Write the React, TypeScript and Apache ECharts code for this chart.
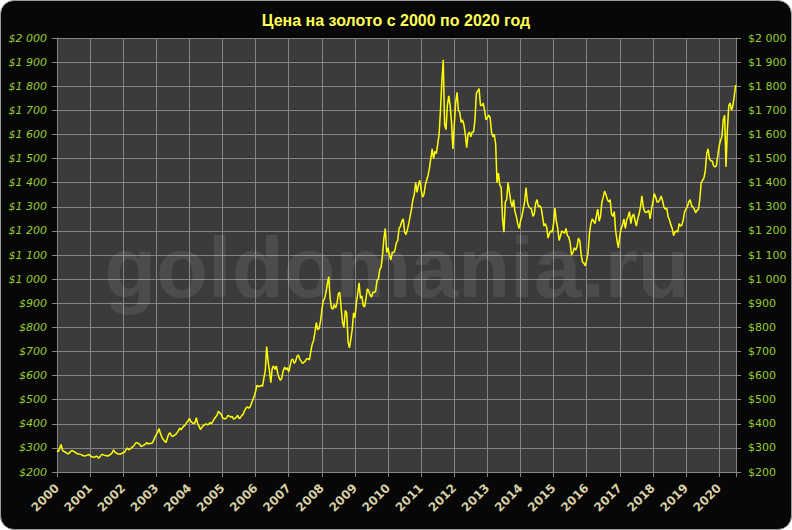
import React, { useEffect, useRef } from "react";
import * as echarts from "echarts";

const TITLE = "Цена на золото с 2000 по 2020 год";
const WATERMARK = "goldomania.ru";

const yearTicks = [2000, 2001, 2002, 2003, 2004, 2005, 2006, 2007, 2008, 2009, 2010, 2011, 2012, 2013, 2014, 2015, 2016, 2017, 2018, 2019, 2020];
const priceMin = 200;
const priceMax = 2000;
const priceStep = 100;
const xMax = 2020.51;

// semi-monthly gold prices (USD / oz), two readings per month
const p2000 = [288, 285, 300, 314, 290, 286, 282, 278, 275, 279, 286, 289, 286, 282, 278, 276, 275, 273, 271, 267, 266, 268, 270, 273];
const p2001 = [268, 264, 262, 261, 264, 266, 258, 262, 270, 273, 270, 268, 267, 266, 270, 274, 280, 292, 282, 279, 275, 275, 274, 278];
const p2002 = [280, 283, 292, 300, 292, 296, 300, 305, 310, 320, 322, 318, 315, 305, 308, 312, 315, 322, 316, 318, 318, 320, 330, 345];
const p2003 = [355, 365, 380, 360, 345, 335, 328, 322, 340, 358, 362, 350, 348, 352, 356, 362, 372, 382, 375, 385, 390, 395, 405, 412];
const p2004 = [422, 410, 405, 400, 405, 425, 400, 390, 376, 385, 392, 395, 400, 396, 398, 405, 400, 410, 420, 428, 435, 452, 445, 440];
const p2005 = [425, 422, 420, 425, 435, 432, 428, 430, 420, 422, 428, 435, 422, 425, 435, 440, 455, 465, 470, 465, 470, 485, 500, 515];
const p2006 = [535, 560, 555, 555, 560, 555, 590, 620, 720, 660, 620, 570, 630, 640, 625, 640, 610, 590, 580, 590, 620, 635, 625, 632];
const p2007 = [615, 640, 665, 668, 650, 660, 680, 685, 668, 660, 650, 655, 660, 670, 670, 665, 700, 730, 745, 780, 820, 790, 795, 825];
const p2008 = [870, 910, 920, 945, 980, 1010, 920, 880, 875, 895, 880, 900, 940, 945, 880, 820, 800, 870, 860, 740, 715, 750, 790, 860];
const p2009 = [840, 900, 940, 985, 920, 930, 890, 885, 920, 960, 950, 935, 925, 945, 945, 950, 995, 1000, 1040, 1050, 1100, 1170, 1210, 1110];
const p2010 = [1130, 1100, 1080, 1110, 1110, 1120, 1150, 1160, 1210, 1220, 1240, 1250, 1195, 1185, 1205, 1230, 1260, 1290, 1330, 1350, 1400, 1360, 1390, 1410];
const p2011 = [1370, 1340, 1350, 1390, 1410, 1430, 1460, 1500, 1540, 1500, 1530, 1520, 1560, 1600, 1700, 1820, 1910, 1640, 1620, 1720, 1760, 1720, 1650, 1540];
const p2012 = [1640, 1730, 1775, 1700, 1690, 1650, 1660, 1640, 1600, 1545, 1600, 1610, 1590, 1610, 1610, 1660, 1770, 1780, 1790, 1720, 1720, 1730, 1700, 1660];
const p2013 = [1670, 1680, 1670, 1610, 1590, 1600, 1560, 1400, 1440, 1390, 1380, 1250, 1195, 1320, 1330, 1400, 1360, 1320, 1300, 1330, 1280, 1260, 1230, 1210];
const p2014 = [1240, 1260, 1290, 1320, 1380, 1320, 1300, 1295, 1290, 1260, 1270, 1315, 1330, 1300, 1305, 1295, 1260, 1220, 1230, 1215, 1170, 1190, 1200, 1195];
const p2015 = [1230, 1295, 1240, 1210, 1160, 1180, 1200, 1195, 1190, 1210, 1180, 1175, 1150, 1100, 1110, 1130, 1120, 1135, 1170, 1160, 1100, 1070, 1065, 1055];
const p2016 = [1080, 1110, 1190, 1230, 1250, 1240, 1230, 1260, 1290, 1240, 1260, 1320, 1340, 1365, 1350, 1330, 1320, 1330, 1270, 1260, 1280, 1200, 1160, 1130];
const p2017 = [1180, 1210, 1225, 1250, 1210, 1245, 1260, 1280, 1230, 1260, 1270, 1245, 1220, 1250, 1270, 1300, 1345, 1300, 1280, 1275, 1280, 1285, 1250, 1290];
const p2018 = [1320, 1355, 1340, 1320, 1320, 1330, 1345, 1325, 1300, 1290, 1295, 1260, 1245, 1225, 1210, 1180, 1195, 1200, 1195, 1230, 1220, 1225, 1245, 1280];
const p2019 = [1290, 1300, 1320, 1330, 1305, 1300, 1290, 1275, 1285, 1290, 1330, 1400, 1410, 1420, 1450, 1520, 1540, 1500, 1490, 1490, 1470, 1465, 1470, 1510];
const p2020 = [1550, 1575, 1590, 1660, 1680, 1465, 1620, 1720, 1730, 1700, 1720, 1760, 1805];

const pricesByYear: [number, number[]][] = [
  [2000, p2000], [2001, p2001], [2002, p2002], [2003, p2003], [2004, p2004],
  [2005, p2005], [2006, p2006], [2007, p2007], [2008, p2008], [2009, p2009],
  [2010, p2010], [2011, p2011], [2012, p2012], [2013, p2013], [2014, p2014],
  [2015, p2015], [2016, p2016], [2017, p2017], [2018, p2018], [2019, p2019],
  [2020, p2020],
];

function fmtPrice(v: number): string {
  if (v >= 1000) {
    const th = Math.floor(v / 1000);
    const rest = String(Math.round(v % 1000)).padStart(3, "0");
    return "$" + th + " " + rest;
  }
  return "$" + v;
}

export default function App() {
  const ref = useRef<HTMLDivElement>(null);

  useEffect(() => {
    if (!ref.current) return;
    const chart = echarts.init(ref.current, null, { renderer: "svg" });

    const data: [number, number][] = [];
    pricesByYear.forEach(([year, arr]) => {
      arr.forEach((p, i) => data.push([year + i / 24, p]));
    });

    const gridColor = "#858585";
    const yAxisCommon = {
      type: "value" as const,
      min: priceMin,
      max: priceMax,
      interval: priceStep,
      axisLine: { show: true, lineStyle: { color: gridColor, width: 1 } },
      axisTick: { show: true, length: 5, lineStyle: { color: gridColor } },
    };

    chart.setOption({
      animation: false,
      backgroundColor: "transparent",
      grid: {
        left: 57,
        right: 56,
        top: 38,
        bottom: 58,
        show: true,
        backgroundColor: "#3b3b3b",
        borderWidth: 0,
      },
      xAxis: {
        type: "value",
        min: yearTicks[0],
        max: xMax,
        interval: 1,
        axisLine: { show: true, lineStyle: { color: gridColor } },
        axisTick: { show: true, length: 5, lineStyle: { color: gridColor } },
        axisLabel: {
          rotate: 45,
          margin: 14,
          color: "#d8d0a6",
          fontWeight: "bold",
          fontSize: 12,
          fontFamily: "DejaVu Sans",
          formatter: (v: number) => (yearTicks.indexOf(v) >= 0 ? String(v) : ""),
        },
        splitLine: { show: true, lineStyle: { color: gridColor, width: 1 } },
      },
      yAxis: [
        {
          ...yAxisCommon,
          position: "left",
          axisLabel: {
            color: "#99cc33",
            fontStyle: "italic",
            fontSize: 11,
            fontFamily: "DejaVu Sans",
            margin: 10,
            formatter: fmtPrice,
          },
          splitLine: { show: true, lineStyle: { color: gridColor, width: 1 } },
        },
        {
          ...yAxisCommon,
          position: "right",
          axisLabel: {
            color: "#99cc33",
            fontSize: 11,
            fontFamily: "DejaVu Sans",
            margin: 12,
            formatter: fmtPrice,
          },
          splitLine: { show: false },
        },
      ],
      graphic: [
        {
          type: "text",
          left: "center",
          top: 12,
          z: 10,
          style: {
            text: TITLE,
            fill: "#ffff55",
            font: 'bold 16px "Liberation Sans"',
          },
        },
        {
          type: "text",
          x: 397,
          y: 267,
          z: 1,
          silent: true,
          style: {
            text: WATERMARK,
            fill: "rgba(255,255,255,0.09)",
            font: 'bold 85px "Liberation Sans"',
            align: "center",
            verticalAlign: "middle",
          },
        },
      ],
      series: [
        {
          type: "line",
          data,
          showSymbol: false,
          yAxisIndex: 0,
          z: 5,
          lineStyle: { color: "#ffff00", width: 1.5 },
        },
      ],
    });

    return () => chart.dispose();
  }, []);

  return (
    <div
      style={{
        position: "absolute",
        left: 0,
        top: 0,
        width: 792,
        height: 530,
        boxSizing: "border-box",
        background: "#070707",
        border: "1px solid #9a9a9a",
        borderRadius: 14,
        overflow: "hidden",
      }}
    >
      <div ref={ref} style={{ position: "absolute", left: -1, top: -1, width: 792, height: 530 }} />
    </div>
  );
}
